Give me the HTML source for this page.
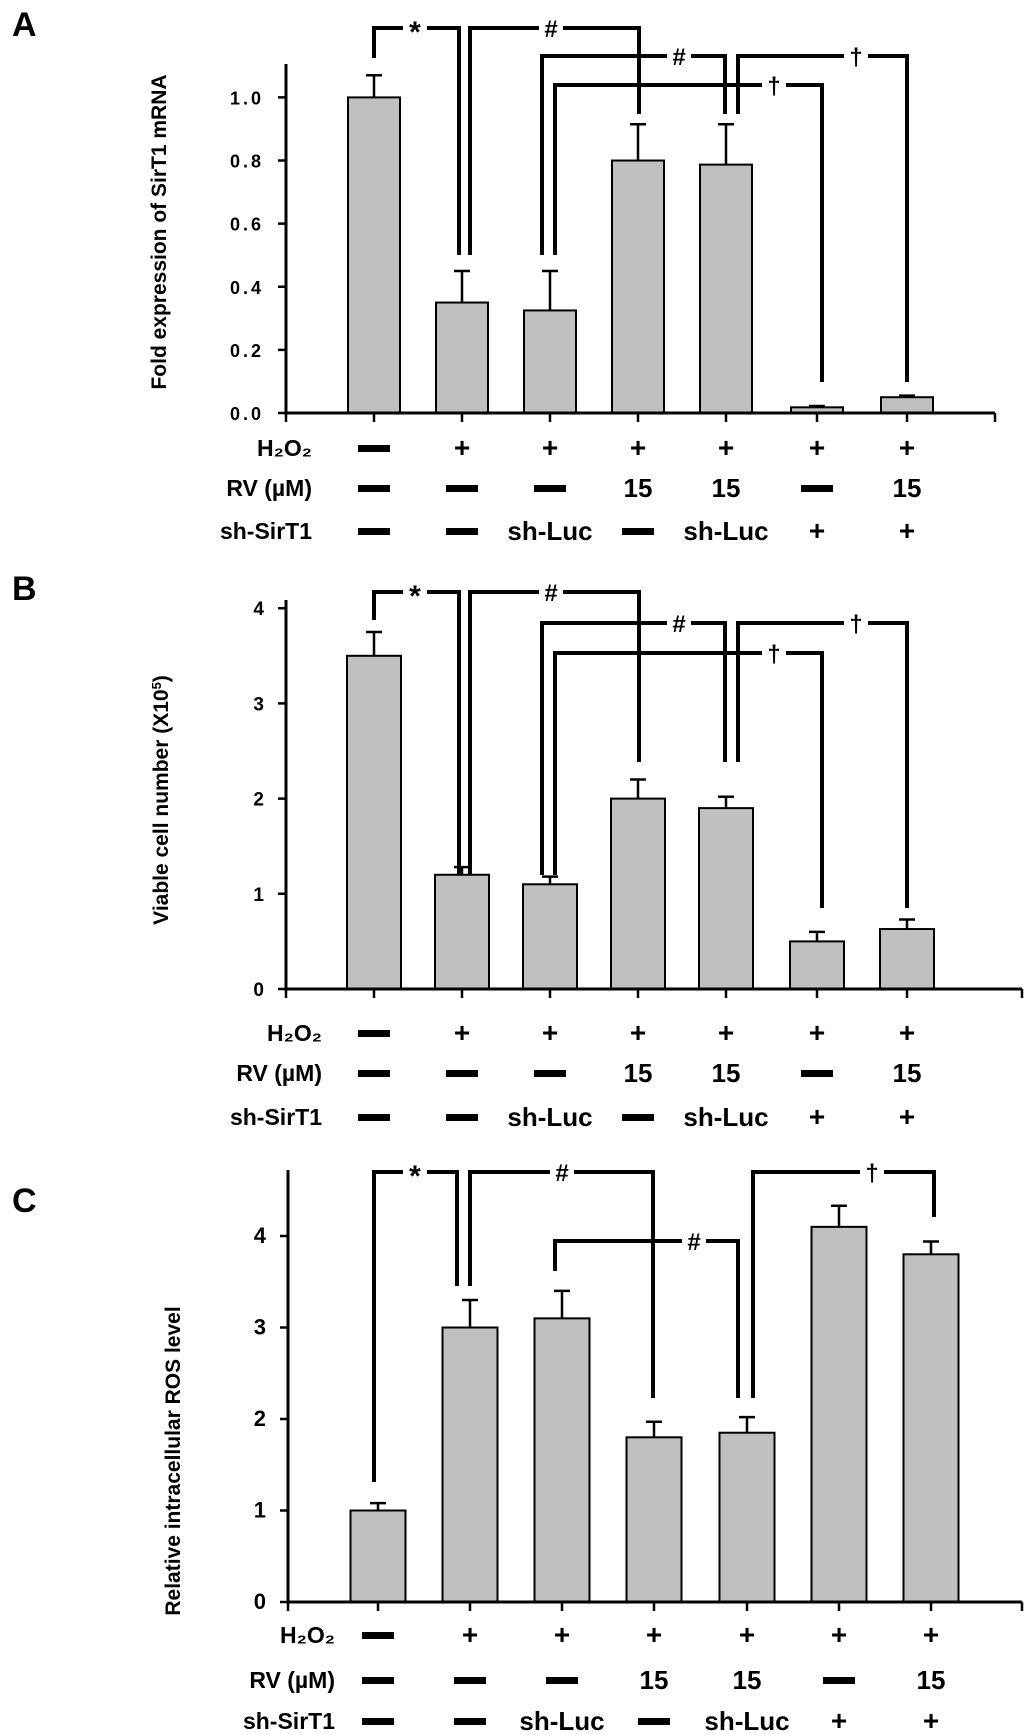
<!DOCTYPE html>
<html><head><meta charset="utf-8"><title>SirT1 panels</title>
<style>
html,body{margin:0;padding:0;background:#fff;}
svg{display:block;font-family:"Liberation Sans Narrow","Liberation Sans",sans-serif;font-weight:bold;}
</style></head>
<body>
<svg id="fig" width="1024" height="1735" viewBox="0 0 1024 1735" xmlns="http://www.w3.org/2000/svg"></svg>
<script>
// ---- data ----
const categories = ["Control","H2O2","H2O2+shLuc","H2O2+RV","H2O2+RV+shLuc","H2O2+shSirT1","H2O2+RV+shSirT1"];
const h2o2Row = ["-","+","+","+","+","+","+"];
const rvRow = ["-","-","-","15","15","-","15"];
const shRow = ["-","-","sh-Luc","-","sh-Luc","+","+"];
const mrnaValues = [1.0,0.35,0.325,0.80,0.787,0.018,0.05];
const mrnaErrors = [0.07,0.10,0.125,0.115,0.128,0.004,0.005];
const mrnaTicks = ["0.0","0.2","0.4","0.6","0.8","1.0"];
const cellValues = [3.5,1.2,1.1,2.0,1.9,0.5,0.63];
const cellErrors = [0.25,0.08,0.08,0.2,0.12,0.1,0.1];
const cellTicks = ["0","1","2","3","4"];
const rosValues = [1.0,3.0,3.1,1.8,1.85,4.1,3.8];
const rosErrors = [0.08,0.3,0.3,0.17,0.17,0.23,0.14];
const rosTicks = ["0","1","2","3","4"];

const NS="http://www.w3.org/2000/svg";
const svg=document.getElementById('fig');
function mk(tag,attrs,parent){const e=document.createElementNS(NS,tag);for(const k in attrs)e.setAttribute(k,attrs[k]);(parent||svg).appendChild(e);return e;}

function panel(cfg){
  const g=mk('g',{});
  
  
  const x0=cfg.axisX, base=cfg.baseY, unitPx=cfg.unitPx;
  const yS=v=>base-v*unitPx;
  const xS=i=>cfg.centers[i];
  const L=mk('text',{x:12,y:cfg.letterY,'font-size':34,'font-family':'Liberation Sans,sans-serif'},g);L.textContent=cfg.letter;
  
  
  cfg.values.forEach((v,i)=>{
    const b=mk('rect',{x:xS(i)-cfg.barW/2,y:yS(v),width:cfg.barW,height:base-yS(v),fill:'#c0c0c0',stroke:'#000','stroke-width':2},g);
    
    
    const top=yS(v+cfg.errors[i]);
    const e=mk('path',{d:`M${xS(i)} ${yS(v)}V${top}M${xS(i)-8} ${top}H${xS(i)+8}`,stroke:'#000','stroke-width':2.5,fill:'none'},g);
    
    
  });
  const ax=mk('path',{d:`M${x0} ${cfg.axisTop}V${base+2}M${x0} ${base}H${cfg.axisRight}`,stroke:'#000','stroke-width':3,fill:'none'},g);
  
  
  let tk='';
  cfg.centers.forEach(c=>{tk+=`M${c} ${base}v9`;});
  tk+=`M${x0} ${base}v9M${cfg.axisRight} ${base}v9`;
  cfg.ticks.forEach((t,i)=>{tk+=`M${x0-8} ${yS(i*cfg.tickStep)}H${x0}`;});
  mk('path',{d:tk,stroke:'#000','stroke-width':2.5,fill:'none'},g);
  cfg.ticks.forEach((t,i)=>{
    const tt=mk('text',{x:x0-22,y:yS(i*cfg.tickStep)+7,'text-anchor':'end','font-size':cfg.tickFont,'letter-spacing':cfg.tickLS},g);
    tt.textContent=t;
    
    
  });
  const yt=mk('text',{x:0,y:0,'text-anchor':'middle','font-size':21,'font-family':'Liberation Sans,sans-serif',transform:`translate(${cfg.titleX},${cfg.titleY}) rotate(-90)`},g);
  yt.innerHTML=cfg.title;
  
  
  const rows=[["H\u2082O\u2082",h2o2Row],["RV (\u00b5M)",rvRow],["sh-SirT1",shRow]];
  rows.forEach((r,ri)=>{
    const y=cfg.rowY[ri];
    const lab=mk('text',{x:cfg.rowLabelX,y:y+8,'text-anchor':'end','font-size':23},g);
    lab.textContent=r[0];
    
    
    r[1].forEach((m,i)=>{
      let cx=xS(i);
      if(m==='-'){const d=mk('rect',{x:cx-16,y:y-3,width:32,height:7,fill:'#000'},g);
        
        }
      else{const t=mk('text',{x:cx,y:y+9,'text-anchor':'middle','font-size':m==='+'?28:26},g);t.textContent=m;
        
        }
    });
  });
  cfg.brackets.forEach(b=>{
    const p=mk('path',{d:`M${b[0]} ${b[1]}V${b[2]}H${b[3]}V${b[4]}`,stroke:'#000','stroke-width':4,fill:'none'},g);
    
    
    const sx=b[6];
    mk('rect',{x:sx-12,y:b[2]-5,width:24,height:10,fill:'#fff'},g);
    const s=mk('text',{x:sx,y:b[2]+(b[5]==='*'?14:9),'text-anchor':'middle','font-size':b[5]==='*'?30:24,'font-family':'Liberation Sans,sans-serif'},g);
    s.textContent=b[5];
    
    
  });
}

const cAB=[374,462,550,638,726,817,907];
panel({name:'panel-a',letter:'A',letterY:36,axisX:286,baseY:413,unitPx:315.6,axisTop:64,axisRight:995,
  centers:cAB,barW:52,values:mrnaValues,errors:mrnaErrors,ticks:mrnaTicks,tickStep:0.2,tickFont:18,tickLS:3,
  title:'Fold expression of SirT1 mRNA',titleX:166,titleY:232,rowLabelX:312,rowY:[448,488,531],
  brackets:[[374,58,28,459,255,'*',415],[470,255,28,639,114,'#',551],[542,255,56,725,114,'#',679],
            [555,255,85,822,382,'\u2020',774],[738,114,56,907,382,'\u2020',856]]});
panel({name:'panel-b',letter:'B',letterY:600,axisX:286,baseY:989,unitPx:95.2,axisTop:600,axisRight:1022,
  centers:cAB,barW:54,values:cellValues,errors:cellErrors,ticks:cellTicks,tickStep:1,tickFont:19,tickLS:0,
  title:'Viable cell number (X10<tspan baseline-shift="super" font-size="13">5</tspan>)',titleX:168,titleY:800,rowLabelX:322,rowY:[1033,1073,1117],
  brackets:[[374,620,592,459,875,'*',415],[470,875,592,639,762,'#',551],[542,875,623,725,762,'#',679],
            [555,875,653,822,908,'\u2020',774],[738,762,623,907,908,'\u2020',856]]});
panel({name:'panel-c',letter:'C',letterY:1212,axisX:288,baseY:1602,unitPx:91.5,axisTop:1170,axisRight:1022,
  centers:[378,470,562,654,747,839,931],barW:55,values:rosValues,errors:rosErrors,ticks:rosTicks,tickStep:1,tickFont:22,tickLS:0,
  title:'Relative intracellular ROS level',titleX:180,titleY:1461,rowLabelX:335,rowY:[1635,1680,1721],
  brackets:[[374,1482,1172,457,1286,'*',415],[470,1286,1172,653,1398,'#',562],[555,1271,1241,738,1398,'#',694],
            [753,1398,1172,934,1217,'\u2020',872]]});
</script>
</body></html>
